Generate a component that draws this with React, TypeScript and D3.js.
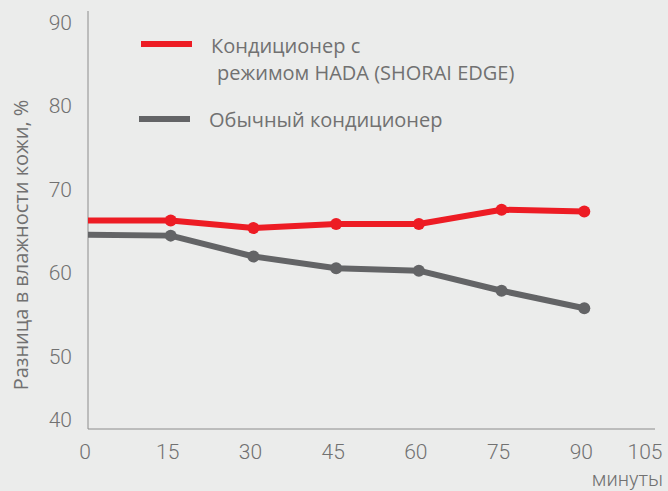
import React from "react";
import * as d3 from "d3";

const minutes = [0, 15, 30, 45, 60, 75, 90];
const hadaValues = [66.3, 66.3, 65.4, 65.9, 65.9, 67.6, 67.4];
const normalValues = [64.6, 64.5, 62.0, 60.6, 60.3, 57.9, 55.8];
const xTicks = [0, 15, 30, 45, 60, 75, 90, 105];
const yTicks = [40, 50, 60, 70, 80, 90];
const legendHada = ["Кондиционер с", "режимом HADA (SHORAI EDGE)"];
const legendNormal = "Обычный кондиционер";
const yTitle = "Разница в влажности кожи, %";
const xTitle = "минуты";

const W = 668;
const H = 491;
const RED = "#ed1c24";
const GRAY = "#636466";
const TXT = "#717171";

export default function App() {
  const axisX = 88;
  const axisY = 429;
  const axisTop = 11;
  const axisRight = 655;

  const x = d3.scaleLinear().domain([0, 105]).range([88, 667]);
  const y = d3.scaleLinear().domain([40, 90]).range([440.2, 22.7]);

  const line = d3
    .line<number>()
    .x((_, i) => x(minutes[i]))
    .y((d) => y(d));

  const series = [
    { vals: hadaValues, color: RED },
    { vals: normalValues, color: GRAY },
  ];

  return (
    <svg
      width={W}
      height={H}
      style={{ position: "absolute", left: 0, top: 0 }}
    >
      <rect x={0} y={0} width={W} height={H} fill="#ebeceb" />
      {/* axes */}
      <line x1={axisX} y1={axisTop} x2={axisX} y2={axisY} stroke="#8c8c8c" strokeWidth={1} />
      <line x1={axisX} y1={axisY} x2={axisRight} y2={axisY} stroke="#8c8c8c" strokeWidth={1} />

      {/* y ticks */}
      {yTicks.map((t) => (
        <text
          key={"y" + t}
          x={72}
          y={Math.min(y(t), axisY - 9)}
          textAnchor="end"
          dominantBaseline="central"
          fontFamily="Roboto"
          fontWeight={300}
          fontSize={21}
          fill={TXT}
        >
          {t}
        </text>
      ))}

      {/* x ticks */}
      {xTicks.map((t) => (
        <text
          key={"x" + t}
          x={Math.min(x(t) - 3, W - 23)}
          y={452}
          textAnchor="middle"
          dominantBaseline="central"
          fontFamily="Roboto"
          fontWeight={300}
          fontSize={21}
          fill={TXT}
        >
          {t}
        </text>
      ))}

      <text
        x={663}
        y={486}
        textAnchor="end"
        fontFamily="Roboto"
        fontWeight={300}
        fontSize={20}
        fill={TXT}
      >
        {xTitle}
      </text>

      <text
        transform={`translate(20,245) rotate(-90)`}
        textAnchor="middle"
        dominantBaseline="central"
        fontFamily="Open Sans"
        fontSize={20}
        fill={TXT}
      >
        {yTitle}
      </text>

      {/* lines */}
      {series.map((s, si) => (
        <g key={si}>
          <path
            d={line(s.vals) || ""}
            fill="none"
            stroke={s.color}
            strokeWidth={6}
            strokeLinejoin="round"
          />
          {s.vals.map((v, i) =>
            i === 0 ? null : (
              <circle key={i} cx={x(minutes[i])} cy={y(v)} r={6} fill={s.color} />
            )
          )}
        </g>
      ))}

      {/* legend */}
      <line x1={141} y1={44} x2={192} y2={44} stroke={RED} strokeWidth={6} />
      <text
        x={211}
        y={45}
        dominantBaseline="central"
        fontFamily="Open Sans"
        fontSize={20}
        fill={TXT}
      >
        {legendHada[0]}
      </text>
      <text
        x={217}
        y={72.7}
        dominantBaseline="central"
        fontFamily="Open Sans"
        fontSize={20}
        fill={TXT}
      >
        {legendHada[1]}
      </text>
      <line x1={139} y1={119} x2={190} y2={119} stroke={GRAY} strokeWidth={6} />
      <text
        x={209}
        y={119}
        dominantBaseline="central"
        fontFamily="Open Sans"
        fontSize={20}
        fill={TXT}
      >
        {legendNormal}
      </text>
    </svg>
  );
}
